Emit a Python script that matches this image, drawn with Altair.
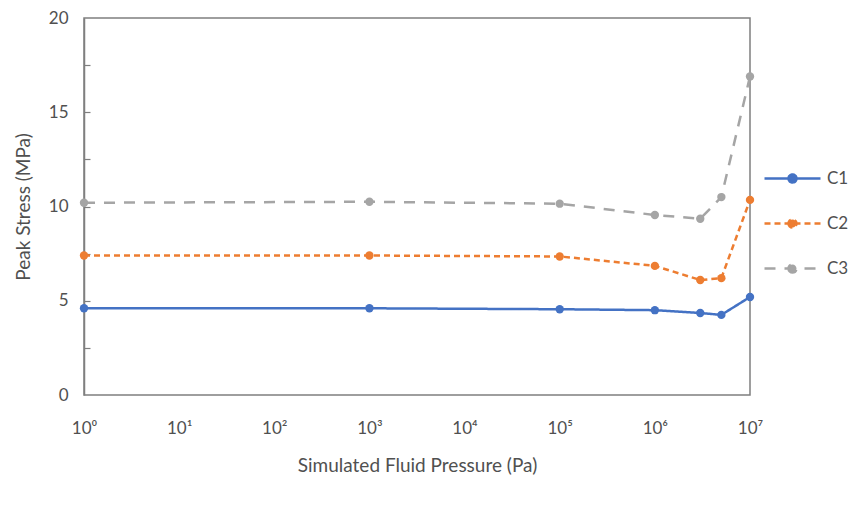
import altair as alt
import pandas as pd

pressure = [1, 1e3, 1e5, 1e6, 3e6, 5e6, 1e7]
c1 = [4.6, 4.6, 4.55, 4.5, 4.35, 4.25, 5.2]
c2 = [7.4, 7.4, 7.35, 6.85, 6.1, 6.2, 10.35]
c3 = [10.2, 10.25, 10.15, 9.55, 9.35, 10.5, 16.9]
series_names = ["C1", "C2", "C3"]
series_colors = ["#4472C4", "#ED7D31", "#A5A5A5"]
series_dash = [[1, 0], [6, 4], [11, 9]]
x_tick_values = [1, 10, 100, 1e3, 1e4, 1e5, 1e6, 1e7]
x_tick_labels = ["10⁰", "10¹", "10²", "10³", "10⁴", "10⁵", "10⁶", "10⁷"]
y_label_values = [0, 5, 10, 15, 20]
y_minor_values = [2.5, 5, 7.5, 10, 12.5, 15, 17.5]

rows = []
for name, vals in zip(series_names, [c1, c2, c3]):
    for p, v in zip(pressure, vals):
        rows.append({"pressure": p, "stress": v, "series": name})
df = pd.DataFrame(rows)

FONT = "Lato"
TXT = "#505050"

label_map = "{" + ",".join(f"'{i}':'{l}'" for i, l in enumerate(x_tick_labels)) + "}"
label_expr = f"{label_map}[''+round(log(datum.value)/LN10)]"

xenc = alt.X(
    "pressure:Q",
    scale=alt.Scale(type="log", domain=[1, 1e7], nice=False),
    axis=alt.Axis(
        values=x_tick_values,
        labelExpr=label_expr,
        title="Simulated Fluid Pressure (Pa)",
        grid=False,
        domain=False,
        ticks=False,
        labelPadding=25,
        titlePadding=20,
        labelFontSize=17,
        titleFontSize=19,
        labelColor=TXT,
        titleColor=TXT,
        labelFont=FONT,
        titleFont=FONT,
        titleFontWeight="normal",
        labelFlush=False,
    ),
)

yscale = alt.Scale(domain=[0, 20], nice=False)

color = alt.Color(
    "series:N",
    scale=alt.Scale(domain=series_names, range=series_colors),
    legend=alt.Legend(
        title=None,
        orient="none",
        legendX=697,
        legendY=149,
        symbolType="M-2.8,0H2.8M-0.4,0A0.4,0.4 0 1,0 0.4,0A0.4,0.4 0 1,0 -0.4,0",
        symbolSize=400,
        symbolStrokeWidth=2.5,
        labelOffset=23,
        rowPadding=24,
        labelFontSize=17,
        labelFont=FONT,
        labelColor=TXT,
    ),
)
dash = alt.StrokeDash(
    "series:N",
    scale=alt.Scale(domain=series_names, range=series_dash),
    legend=None,
)

line = alt.Chart(df).mark_line(strokeWidth=2.5).encode(
    x=xenc,
    y=alt.Y(
        "stress:Q",
        scale=yscale,
        axis=alt.Axis(
            values=y_label_values,
            title="Peak Stress (MPa)",
            grid=False,
            ticks=False,
            domain=True,
            domainColor="#7f7f7f",
            domainWidth=1.5,
            labelPadding=16,
            titlePadding=15,
            labelFontSize=17,
            titleFontSize=19,
            labelColor=TXT,
            titleColor=TXT,
            labelFont=FONT,
            titleFont=FONT,
            titleFontWeight="normal",
        ),
    ),
    color=color,
    strokeDash=dash,
)

points = alt.Chart(df).mark_circle(size=70, opacity=1).encode(
    x="pressure:Q",
    y=alt.Y("stress:Q", scale=yscale, axis=None),
    color=alt.Color("series:N"),
)

ticks_layer = alt.Chart(df).mark_circle(opacity=0).encode(
    y=alt.Y(
        "stress:Q",
        scale=yscale,
        axis=alt.Axis(
            orient="left",
            values=y_minor_values,
            offset=-6,
            tickSize=6,
            tickColor="#7f7f7f",
            tickWidth=1.2,
            labels=False,
            domain=False,
            grid=False,
            title=None,
        ),
    ),
)

chart = (
    alt.layer(line, points, ticks_layer)
    .resolve_scale(y="independent")
    .properties(
        width=666,
        height=377,
        autosize=alt.AutoSizeParams(type="none"),
        padding={"left": 84, "top": 18, "right": 99, "bottom": 113},
    )
    .configure_view(stroke="#7f7f7f", strokeWidth=1.5)
)

chart.save("out.html", embed_options={"renderer": "svg", "actions": False})
